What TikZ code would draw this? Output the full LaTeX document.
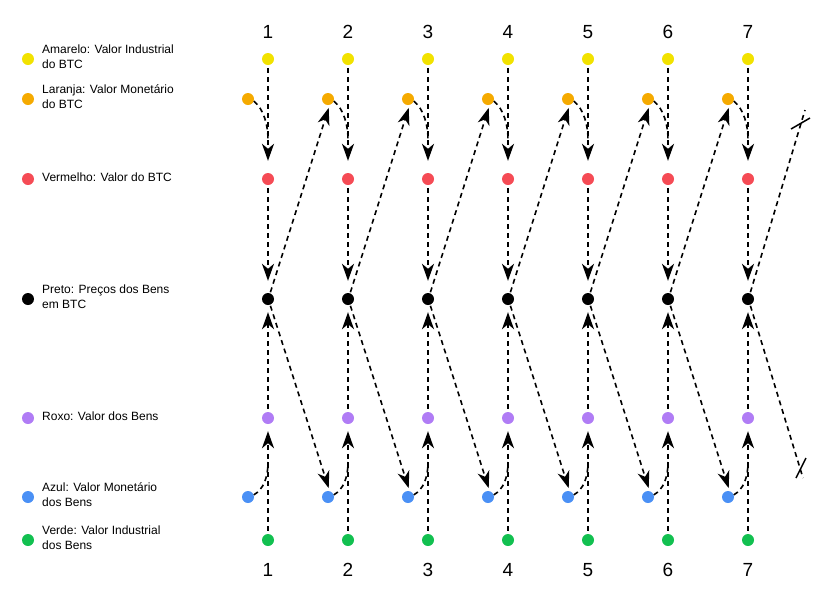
\documentclass[tikz,border=0pt]{standalone}
\usepackage{fontspec}
\setmainfont{Liberation Sans}
\usetikzlibrary{arrows.meta}
\definecolor{cY}{HTML}{F2E200}
\definecolor{cO}{HTML}{F5AA00}
\definecolor{cR}{HTML}{F54B55}
\definecolor{cP}{HTML}{B07CF5}
\definecolor{cB}{HTML}{4A90F5}
\definecolor{cG}{HTML}{12C050}
\begin{document}
\begin{tikzpicture}[x=1pt,y=-1pt,
  dot/.style={circle,fill=#1,inner sep=0pt,minimum size=12pt},
  lab/.style={anchor=west,align=left,font=\fontsize{12}{15}\selectfont,inner sep=0pt},
  num/.style={font=\fontsize{19}{22}\selectfont},
  con/.style={line width=1.6pt,dash pattern=on 5pt off 4pt},
  arr/.style={con,-{Stealth[length=17pt,width=12pt,inset=5pt]}}]
\useasboundingbox (0,0) rectangle (824,590);
% legend
\node[dot=cY] (ly) at (28,59) {};
\node[dot=cO] (lo) at (28,99) {};
\node[dot=cR] (lr) at (28,179) {};
\node[dot=black] (lk) at (28,299) {};
\node[dot=cP] (lp) at (28,418) {};
\node[dot=cB] (lb) at (28,497) {};
\node[dot=cG] (lg) at (28,540) {};
\node[lab] (tly) at (42,57) {Amarelo: Valor Industrial\\do BTC};
\node[lab] (tlo) at (42,97) {Laranja: Valor Monetário\\do BTC};
\node[lab] (tlr) at (42,177) {Vermelho: Valor do BTC};
\node[lab] (tlk) at (42,297) {Preto: Preços dos Bens\\em BTC};
\node[lab] (tlp) at (42,416) {Roxo: Valor dos Bens};
\node[lab] (tlb) at (42,495) {Azul: Valor Monetário\\dos Bens};
\node[lab] (tlg) at (42,538) {Verde: Valor Industrial\\dos Bens};
\foreach \i in {1,...,7}{
  \pgfmathsetmacro\x{268+80*(\i-1)}
  \node[num] (nt\i) at (\x,32) {\i};
  \node[num] (nb\i) at (\x,570) {\i};
  \node[dot=cY] (y\i) at (\x,59) {};
  \node[dot=cO] (o\i) at (\x-20,99) {};
  \node[dot=cR] (r\i) at (\x,179) {};
  \node[dot=black] (k\i) at (\x,299) {};
  \node[dot=cP] (p\i) at (\x,418) {};
  \node[dot=cB] (b\i) at (\x-20,497) {};
  \node[dot=cG] (g\i) at (\x,540) {};
  \coordinate (m\i) at (\x,140);
  \coordinate (n\i) at (\x,462);
  \draw[arr,shorten <=3pt,shorten >=12pt] (y\i) -- (r\i);
  \draw[con] (o\i.-20) .. controls +(10,8) and +(0,-15) .. (m\i);
  \draw[arr,shorten <=3pt,shorten >=12pt] (r\i) -- (k\i);
  \draw[arr,shorten <=3pt,shorten >=7pt] (p\i) -- (k\i);
  \draw[arr,shorten <=3pt,shorten >=7pt] (g\i) -- (p\i);
  \draw[con] (b\i.20) .. controls +(10,-6) and +(0,15) .. (n\i);
}
\foreach \i [evaluate=\i as \j using int(\i+1)] in {1,...,6}{
  \draw[arr,shorten <=1pt,shorten >=3pt] (k\i.70) -- (o\j.-75);
  \draw[arr,shorten <=1pt,shorten >=3pt] (k\i.-70) -- (b\j.75);
}
\coordinate (ct) at (805,110);
\coordinate (cb) at (803,478);
\draw[con,shorten <=1pt] (k7.70) -- (ct);
\draw[con,shorten <=1pt] (k7.-70) -- (cb);
\draw[line width=1.5pt] (791,129) -- (810,118);
\draw[line width=1.5pt] (796,478) -- (806,458);
\end{tikzpicture}
\end{document}
